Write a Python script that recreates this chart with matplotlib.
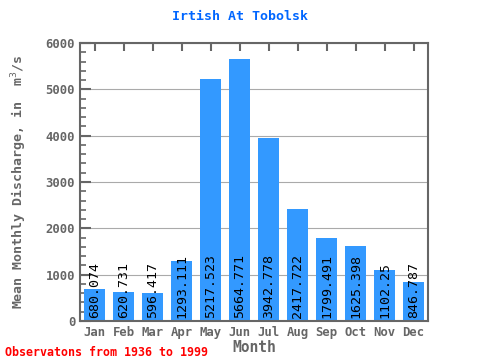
import matplotlib
matplotlib.use("Agg")
import matplotlib.pyplot as plt
from matplotlib.ticker import MultipleLocator

months = ["Jan", "Feb", "Mar", "Apr", "May", "Jun", "Jul", "Aug", "Sep", "Oct", "Nov", "Dec"]
discharge = [680.074, 620.731, 596.417, 1293.111, 5217.523, 5664.771,
             3942.778, 2417.722, 1799.491, 1625.398, 1102.25, 846.787]
value_labels = ["680.074", "620.731", "596.417", "1293.111", "5217.523", "5664.771",
                "3942.778", "2417.722", "1799.491", "1625.398", "1102.25", "846.787"]

mono = "DejaVu Sans Mono"
grey = "#666666"

fig = plt.figure(figsize=(4.8, 3.6), dpi=100)
ax = fig.add_axes([80 / 480, 1 - 321 / 360, 348 / 480, 278 / 360])

x = range(len(months))
ax.bar(x, discharge, width=0.7, color="#3399ff", zorder=2)
for i, v in enumerate(value_labels):
    ax.text(i, 70, v, rotation=90, ha="center", va="bottom",
            family=mono, fontsize=9.5, color="black", zorder=3)

ax.set_xlim(-0.5, 11.5)
ax.set_ylim(0, 6000)
ax.yaxis.set_major_locator(MultipleLocator(1000))
ax.yaxis.set_minor_locator(MultipleLocator(200))
ax.grid(axis="y", color="#aaaaaa", linewidth=0.8, zorder=0)
ax.set_xticks(list(x))
ax.set_xticklabels(months)
ax.tick_params(axis="both", direction="in", colors=grey, labelcolor=grey,
               width=1.5, top=True, right=False)
ax.tick_params(axis="y", which="major", length=8)
ax.tick_params(axis="y", which="minor", length=4, width=1.2, direction="in", colors=grey)
ax.tick_params(axis="x", length=6)
for lab in ax.get_xticklabels() + ax.get_yticklabels():
    lab.set_family(mono)
    lab.set_fontweight("bold")
    lab.set_fontsize(8.8)
for s in ax.spines.values():
    s.set_color(grey)
    s.set_linewidth(1.5)

ax.set_xlabel("Month", family=mono, fontweight="bold", fontsize=10.5, color=grey, labelpad=1)
ax.set_ylabel("Mean Monthly Discharge, in  m$^{3}$/s", family=mono, fontweight="bold",
              fontsize=9.5, color=grey, labelpad=12)
fig.text(0.5, 1 - 17 / 360, "Irtish At Tobolsk", ha="center", va="center",
         family=mono, fontweight="bold", fontsize=9.5, color="#0066ff")
fig.text(5 / 480, 1 - 352 / 360, "Observatons from 1936 to 1999", ha="left", va="center",
         family=mono, fontweight="bold", fontsize=8.4, color="#ff0000")

fig.savefig("out.png", dpi=100)
